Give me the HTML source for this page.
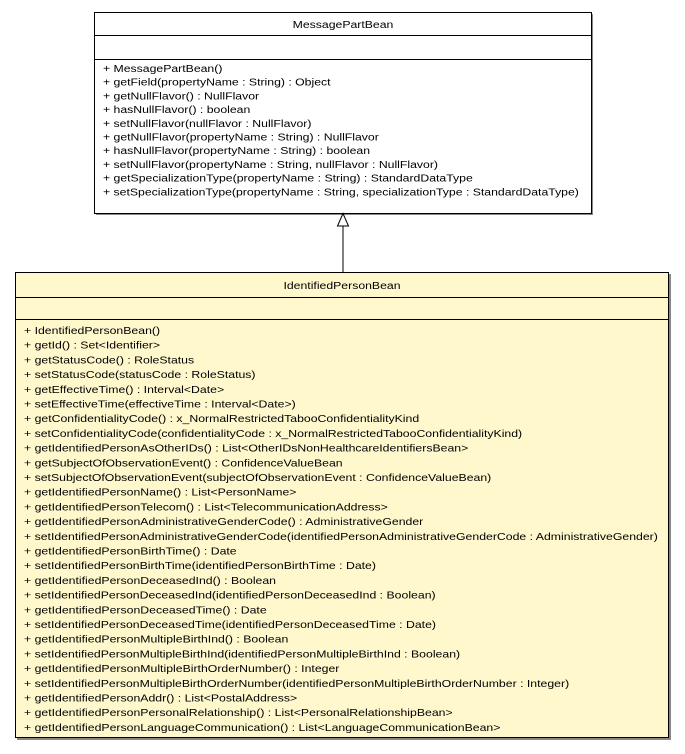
<!DOCTYPE html>
<html><head><meta charset="utf-8"><style>
body{margin:0;background:#fff;width:685px;height:749px;overflow:hidden}
svg text{font-family:"Liberation Sans",sans-serif;font-size:10px;fill:#000}
</style></head><body>
<svg width="685" height="749" xmlns="http://www.w3.org/2000/svg">
<rect x="96" y="14" width="497" height="201" fill="#888"/>
<rect x="94.5" y="12.5" width="497" height="201" fill="#fff" stroke="#000"/>
<line x1="94" y1="35.5" x2="591" y2="35.5" stroke="#000"/>
<line x1="94" y1="59.5" x2="591" y2="59.5" stroke="#000"/>
<g transform="translate(343,0) scale(1.225,1)"><text x="0" y="28" text-anchor="middle">MessagePartBean</text></g>
<g transform="translate(103,0) scale(1.225,1)">
<text x="0" y="72">+ MessagePartBean()</text>
<text x="0" y="85.7">+ getField(propertyName : String) : Object</text>
<text x="0" y="99.4">+ getNullFlavor() : NullFlavor</text>
<text x="0" y="113.1">+ hasNullFlavor() : boolean</text>
<text x="0" y="126.8">+ setNullFlavor(nullFlavor : NullFlavor)</text>
<text x="0" y="140.5">+ getNullFlavor(propertyName : String) : NullFlavor</text>
<text x="0" y="154.2">+ hasNullFlavor(propertyName : String) : boolean</text>
<text x="0" y="167.9">+ setNullFlavor(propertyName : String, nullFlavor : NullFlavor)</text>
<text x="0" y="181.6">+ getSpecializationType(propertyName : String) : StandardDataType</text>
<text x="0" y="195.3">+ setSpecializationType(propertyName : String, specializationType : StandardDataType)</text>
</g>
<line x1="343" y1="226" x2="343" y2="272" stroke="#000"/>
<polygon points="343,213.5 337.5,226 348.5,226" fill="#fff" stroke="#000"/>
<rect x="17" y="274" width="654" height="466" fill="#888"/>
<rect x="15.5" y="272.5" width="653" height="465" fill="#fff8cc" stroke="#000"/>
<line x1="15" y1="297.5" x2="669" y2="297.5" stroke="#000"/>
<line x1="15" y1="319.5" x2="669" y2="319.5" stroke="#000"/>
<g transform="translate(342,0) scale(1.225,1)"><text x="0" y="289" text-anchor="middle">IdentifiedPersonBean</text></g>
<g transform="translate(24,0) scale(1.228,1)">
<text x="0" y="334">+ IdentifiedPersonBean()</text>
<text x="0" y="348.7">+ getId() : Set&lt;Identifier&gt;</text>
<text x="0" y="363.4">+ getStatusCode() : RoleStatus</text>
<text x="0" y="378.1">+ setStatusCode(statusCode : RoleStatus)</text>
<text x="0" y="392.8">+ getEffectiveTime() : Interval&lt;Date&gt;</text>
<text x="0" y="407.5">+ setEffectiveTime(effectiveTime : Interval&lt;Date&gt;)</text>
<text x="0" y="422.2">+ getConfidentialityCode() : x_NormalRestrictedTabooConfidentialityKind</text>
<text x="0" y="436.9">+ setConfidentialityCode(confidentialityCode : x_NormalRestrictedTabooConfidentialityKind)</text>
<text x="0" y="451.6">+ getIdentifiedPersonAsOtherIDs() : List&lt;OtherIDsNonHealthcareIdentifiersBean&gt;</text>
<text x="0" y="466.3">+ getSubjectOfObservationEvent() : ConfidenceValueBean</text>
<text x="0" y="481">+ setSubjectOfObservationEvent(subjectOfObservationEvent : ConfidenceValueBean)</text>
<text x="0" y="495.7">+ getIdentifiedPersonName() : List&lt;PersonName&gt;</text>
<text x="0" y="510.4">+ getIdentifiedPersonTelecom() : List&lt;TelecommunicationAddress&gt;</text>
<text x="0" y="525.1">+ getIdentifiedPersonAdministrativeGenderCode() : AdministrativeGender</text>
<text x="0" y="539.8">+ setIdentifiedPersonAdministrativeGenderCode(identifiedPersonAdministrativeGenderCode : AdministrativeGender)</text>
<text x="0" y="554.5">+ getIdentifiedPersonBirthTime() : Date</text>
<text x="0" y="569.2">+ setIdentifiedPersonBirthTime(identifiedPersonBirthTime : Date)</text>
<text x="0" y="583.9">+ getIdentifiedPersonDeceasedInd() : Boolean</text>
<text x="0" y="598.6">+ setIdentifiedPersonDeceasedInd(identifiedPersonDeceasedInd : Boolean)</text>
<text x="0" y="613.3">+ getIdentifiedPersonDeceasedTime() : Date</text>
<text x="0" y="628">+ setIdentifiedPersonDeceasedTime(identifiedPersonDeceasedTime : Date)</text>
<text x="0" y="642.7">+ getIdentifiedPersonMultipleBirthInd() : Boolean</text>
<text x="0" y="657.4">+ setIdentifiedPersonMultipleBirthInd(identifiedPersonMultipleBirthInd : Boolean)</text>
<text x="0" y="672.1">+ getIdentifiedPersonMultipleBirthOrderNumber() : Integer</text>
<text x="0" y="686.8">+ setIdentifiedPersonMultipleBirthOrderNumber(identifiedPersonMultipleBirthOrderNumber : Integer)</text>
<text x="0" y="701.5">+ getIdentifiedPersonAddr() : List&lt;PostalAddress&gt;</text>
<text x="0" y="716.2">+ getIdentifiedPersonPersonalRelationship() : List&lt;PersonalRelationshipBean&gt;</text>
<text x="0" y="730.9">+ getIdentifiedPersonLanguageCommunication() : List&lt;LanguageCommunicationBean&gt;</text>
</g>
</svg>
</body></html>
